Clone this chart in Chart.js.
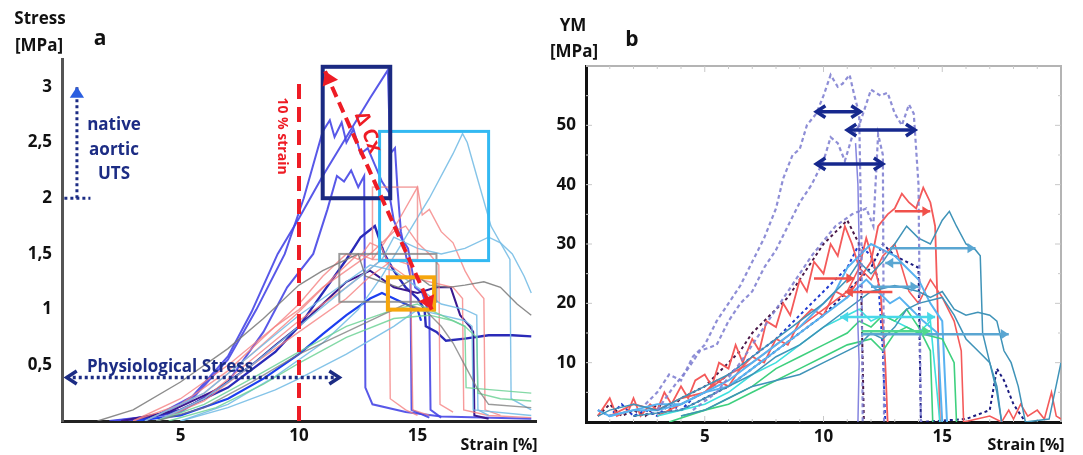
<!DOCTYPE html>
<html>
<head>
<meta charset="utf-8">
<script src="https://cdn.jsdelivr.net/npm/chart.js@4.4.0/dist/chart.umd.min.js"></script>
<style>
body { margin:0; background:#fff; width:1083px; height:455px; overflow:hidden; position:relative; font-family:'Open Sans', sans-serif; }
canvas { position:absolute; top:0; }
#chartA { left:0; }
#chartB { left:540px; }
.lbl { position:absolute; font-weight:700; white-space:nowrap; transform:translate(-50%,-50%); line-height:1; color:#111; }
.navy { color:#1c2c84; }
.red { color:#ee1c25; }
</style>
</head>
<body>
<canvas id="chartA" width="540" height="455"></canvas>
<canvas id="chartB" width="543" height="455"></canvas>

<!-- panel a texts -->
<div class="lbl" style="left:40px;top:17px;font-size:17px">Stress</div>
<div class="lbl" style="left:39px;top:44px;font-size:17px">[MPa]</div>
<div class="lbl" style="left:100px;top:37px;font-size:21px">a</div>
<div class="lbl navy" style="left:114px;top:123px;font-size:17px">native</div>
<div class="lbl navy" style="left:114px;top:148px;font-size:17px">aortic</div>
<div class="lbl navy" style="left:114px;top:172px;font-size:17px">UTS</div>
<div class="lbl navy" style="left:170px;top:365px;font-size:17px">Physiological Stress</div>
<div class="lbl red" style="left:283px;top:136px;font-size:14px;transform:translate(-50%,-50%) rotate(90deg)">10 % strain</div>
<div class="lbl red" style="left:369px;top:132px;font-size:20px;transform:translate(-50%,-50%) rotate(68deg)">Δ Cx</div>
<div class="lbl" style="left:499px;top:444px;font-size:16px">Strain [%]</div>

<!-- panel b texts -->
<div class="lbl" style="left:573px;top:24px;font-size:17px">YM</div>
<div class="lbl" style="left:574px;top:50px;font-size:17px">[MPa]</div>
<div class="lbl" style="left:632px;top:38px;font-size:21px">b</div>
<div class="lbl" style="left:1026px;top:444px;font-size:16px">Strain [%]</div>

<script>
Chart.defaults.font.family = "'Open Sans', sans-serif";

// ---------- panel a : stress-strain curves [strain %, stress MPa] ----------
const strainTicks = [5, 10, 15];
const stressTicks = [0.5, 1, 1.5, 2, 2.5, 3];

const grayA1 = [[1.5,0],[3,0.1],[5,0.35],[7,0.65],[8.5,0.92],[10,1.22],[11,1.35],[12,1.45],[12.5,1.5],[12.8,1.3],[13.5,1.25],[14.2,1.2],[15,1.3],[15.5,1.22],[16.3,1.2],[17,1.22],[17.8,1.25],[18.5,1.2],[19.2,1.05],[19.8,0.95]];
const grayA2 = [[4,0],[6,0.12],[8,0.35],[10,0.6],[12,0.8],[13.5,0.95],[14.5,1.05],[15.3,1.0],[16,0.85],[16.5,0.7],[17,0.5],[17.5,0.3],[18,0.15],[19.8,0.12]];
const pinkA1 = [[3,0],[5,0.15],[7,0.45],[8.5,0.75],[10,1.05],[11,1.3],[12,1.5],[12.5,1.45],[13,1.6],[13.5,1.55],[13.8,1.4],[13.85,0.2],[14.5,0.1],[15,0.05]];
const pinkA2 = [[3.5,0],[6,0.25],[8,0.6],[10,0.98],[11.5,1.3],[12.5,1.5],[13.1,1.45],[13.6,1.6],[14.2,1.8],[15,2.1],[15.2,1.85],[15.5,1.9],[16,1.7],[16.5,1.6],[17,1.35],[17.4,1.2],[17.8,1.1],[17.85,0.1],[18.5,0.05]];
const pinkA3 = [[3,0],[5,0.2],[7,0.5],[9,0.85],[10,1.0],[11,1.2],[12,1.35],[13,1.5],[14,1.7],[14.5,1.75],[15,1.6],[15.5,1.5],[15.9,1.4],[15.95,0.15],[16.5,0.08]];
const pinkA4 = [[4,0],[6,0.2],[8,0.55],[10,0.9],[12,1.2],[13.5,1.45],[14.5,1.3],[15.5,1.25],[16.5,1.2],[16.9,1.1],[16.95,0.1],[18,0.05],[19.8,0.03]];
const pinkA5 = [[4,0],[6,0.18],[8,0.5],[10,0.8],[12,1.1],[13,1.3],[14,1.45],[14.7,1.4],[14.8,0.1],[15.5,0.05]];
const lblueA1 = [[5,0],[7,0.15],[9,0.4],[11,0.7],[12.5,1.0],[13.5,1.3],[14.5,1.65],[15.5,2.0],[16.5,2.4],[16.9,2.58],[17.1,2.5],[17.5,2.2],[18.1,1.75],[18.5,1.6],[19,1.5],[19.5,1.3],[19.8,1.15]];
const lblueA2 = [[4,0],[6,0.2],[8,0.5],[10,0.85],[12,1.2],[13.5,1.45],[14,1.65],[15,1.55],[16,1.5],[17,1.55],[18,1.65],[18.5,1.6],[18.9,1.45],[18.95,0.2],[19.8,0.1]];
const lblueA3 = [[3.5,0],[6,0.25],[8,0.6],[10,0.95],[12,1.25],[13,1.4],[14,1.35],[15,1.2],[16,1.05],[17,1.0],[17.5,0.95],[17.55,0.1],[18,0.05]];
const lblueA4 = [[5,0],[7,0.12],[9,0.28],[10,0.38],[12,0.6],[14,0.85],[15,1.0],[16,0.95],[17,0.9],[17.3,0.85],[17.35,0.1],[19.8,0.05]];
const greenA1 = [[4,0],[6,0.15],[8,0.38],[10,0.62],[12,0.85],[14,1.0],[15,1.05],[16,0.95],[17,0.85],[17.5,0.75],[17.55,0.25],[18.5,0.2],[19.8,0.18]];
const greenA2 = [[4.5,0],[6.5,0.12],[8.5,0.33],[10,0.52],[12,0.75],[14,0.92],[15.5,0.95],[16.5,0.9],[17,0.85],[17.05,0.3],[19.8,0.25]];
const blueA1 = [[2,0],[4,0.05],[5.5,0.22],[7,0.58],[8,0.98],[9.1,1.5],[10,1.82],[11,2.2],[12,2.55],[13,2.9],[13.75,3.15],[13.85,2.4],[14.05,2.45],[14.15,2.1],[14.3,1.7],[14.5,1.5],[14.7,1.3],[14.75,0.1],[15.5,0.03]];
const blueA2 = [[2.2,0],[4,0.05],[5.5,0.2],[7,0.55],[8.2,1.0],[9.4,1.5],[10.2,2.0],[11,2.6],[11.3,2.7],[11.5,2.55],[11.8,2.68],[12,2.5],[12.3,2.62],[12.6,2.4],[12.9,2.45],[13.2,2.3],[13.5,2.15],[13.8,2.05],[14,1.8],[14.3,1.65],[14.6,1.55],[14.9,1.2],[15.2,1.15],[15.5,0.95],[15.55,0.1],[16,0.03]];
const blueA3 = [[2.8,0],[5,0.08],[7,0.35],[8.5,0.8],[9.5,1.2],[10.6,1.5],[11.2,1.9],[11.6,2.2],[11.9,2.15],[12.2,2.25],[12.5,2.1],[12.75,2.2],[12.8,0.3],[13.1,0.15],[14.5,0.08],[16,0.04],[19.8,0.02]];
const blueA4 = [[3,0],[5,0.1],[7,0.3],[9,0.62],[10,0.85],[11,1.15],[12,1.45],[12.6,1.65],[13.2,1.75],[13.6,1.5],[14,1.35],[14.5,1.2],[15,1.1],[15.3,1.0],[15.35,0.85],[15.8,0.8],[16.2,0.72],[17,0.74],[18,0.77],[19,0.77],[19.8,0.76]];
const purpleA = [[2.5,0],[4.5,0.08],[6.5,0.28],[8,0.5],[9,0.68],[10,0.85],[11,1.05],[12,1.25],[13,1.35],[14,1.2],[15,1.15],[15.8,1.2],[16.4,1.2],[16.8,0.95],[17.2,0.85],[17.35,0.8],[17.4,0.05],[18,0.02]];
const brightA = [[3,0],[5,0.05],[7,0.2],[8.5,0.38],[10,0.6],[11,0.78],[12,0.95],[13,1.1],[13.5,1.15],[14,1.1],[14.5,1.05],[15,1.0],[15.15,0.9]];

// ---------- panel a : annotations (data units) ----------
const tenStrain = [[10, 0], [10, 3.09]];
const deltaCx = [[11.1, 3.14], [15.6, 1.0]];
const utsArrow = [[0.63, 2.0], [0.63, 3.0]];
const utsBase = [[0.1, 2.0], [1.2, 2.0]];
const physioArrow = [[0.2, 0.39], [11.7, 0.39]];
const navyBox = [11.0, 13.85, 2.0, 3.18];
const cyanBox = [13.4, 18.0, 1.44, 2.6];
const grayBox = [11.7, 15.8, 1.07, 1.5];
const orangeBox = [13.75, 15.7, 1.0, 1.29];
const pinkBox = [13.1, 15.0, 1.45, 2.1];

// ---------- panel b : Young's modulus curves [strain %, YM MPa] ----------
const ymTicks = [10, 20, 30, 40, 50];

const dashL1 = [[2.5,3],[3,5],[3.5,8],[4,7],[4.5,11],[5,13],[5.5,17],[6,20],[6.5,23],[7,27],[7.5,31],[8,36],[8.3,41],[8.7,45],[9,46],[9.3,50],[9.7,52],[10,55],[10.3,58.5],[10.6,56.5],[10.8,57],[11.1,58.5],[11.3,55],[11.5,52],[11.6,30],[11.65,0]];
const dashL2 = [[3,2],[3.7,6],[4.3,9],[4.8,12],[5.5,13],[6,17],[6.5,20],[7,22],[7.5,26],[8,29],[8.5,33],[9,37],[9.5,40],[10,44],[10.3,48],[10.6,47],[10.9,44],[11.2,48],[11.5,50],[12,56],[12.4,55],[12.7,55.5],[13,52],[13.3,50],[13.6,53.5],[13.8,52],[14,40],[14.1,0]];
const dashL3 = [[4.5,2],[5.5,5],[6.5,10],[7.5,16],[8.5,22],[9.5,28],[10.5,33],[11.2,35],[11.8,36],[12.1,33],[12.3,48.5],[12.5,45],[12.55,0]];
const waveL = [[11.35,47],[11.45,40],[11.5,30],[11.42,20],[11.5,10],[11.45,0]];
const dashN1 = [[0.5,1],[1,3],[1.5,1],[2,2],[2.5,1],[3,3],[3.5,2],[4,4],[4.5,5],[5,6],[5.5,8],[6,10],[6.5,12],[7,15],[7.5,17],[8,19],[8.5,21],[9,24],[9.5,27],[10,30],[10.5,32],[11,34],[11.5,30],[11.6,20],[11.7,0]];
const dashN2 = [[0.5,2],[1,1],[1.5,3],[2,1],[2.5,2],[3,1],[3.5,3],[4,2],[4.5,4],[5,5],[6,8],[7,11],[8,14],[9,18],[10,22],[11,26],[11.5,30],[12,28],[12.3,24],[12.5,12],[12.6,0]];
const dashN3 = [[2,1],[4,2],[6,6],[8,12],[10,18],[11,22],[12,26],[12.5,30],[13,28],[13.5,27],[14,26],[14.1,0],[16,0.5],[17,2],[17.3,9],[17.6,7],[18,3],[18.5,0]];
const redB1 = [[0.5,1],[1,4],[1.3,1],[1.8,2],[2,4],[2.3,1],[2.7,3],[3,2],[3.3,5],[3.6,3],[4,6],[4.3,4],[4.6,7],[5,8],[5.3,6],[5.6,10],[6,9],[6.3,13],[6.6,10],[7,14],[7.3,12],[7.6,17],[8,16],[8.3,20],[8.6,18],[9,24],[9.3,22],[9.6,27],[10,25],[10.3,30],[10.6,28],[10.9,33],[11.2,30],[11.5,26],[11.8,31],[12.1,27],[12.4,22],[12.6,10],[12.7,0]];
const redB2 = [[1,1],[2,3],[3,2],[4,4],[5,5],[5.5,7],[6,6],[6.5,9],[7,11],[7.5,10],[8,14],[8.5,13],[9,17],[9.5,19],[10,18],[10.5,22],[11,21],[11.5,24],[12,27],[12.3,33],[12.7,35],[13,36],[13.3,38.5],[13.6,37],[13.9,36],[14.2,39.5],[14.5,37],[14.7,33],[14.8,20],[14.9,0]];
const redB3 = [[3,1],[4,3],[5,5],[6,8],[7,10],[8,13],[9,16],[10,19],[11,22],[11.5,26],[12,24],[12.5,28],[13,30],[13.3,26],[13.6,22],[14,20],[14.5,24],[15,21],[15.5,17],[15.8,12],[15.9,0],[17,1],[17.5,0],[17.8,2],[18,0.5],[18.3,3],[18.6,1],[19,2],[19.3,0.5],[19.6,5],[19.8,1],[20,0.5]];
const tealB1 = [[0.5,1],[1,2],[2,3],[3,2],[4,4],[5,6],[6,8],[7,11],[8,14],[9,17],[10,20],[11,24],[11.5,27],[12,25],[12.5,27],[13,30],[13.5,33],[14,31],[14.5,30],[15,34],[15.3,35.5],[15.6,33],[16,30],[16.4,29],[16.6,28],[16.7,15],[17,10],[17.3,6],[17.5,0]];
const tealB2 = [[2,1],[4,2],[5,4],[6,6],[7,8],[8,11],[9,13],[10,16],[11,19],[12,22],[13,23],[14,22],[14.5,21],[15,22],[15.5,19],[16,18],[16.5,18.5],[17,18],[17.3,17],[17.6,12],[17.9,10],[18.2,6],[18.5,0],[19.5,0.5],[20,10]];
const tealB3 = [[4,1],[5,2],[6,4],[7,6],[8,7],[9,8],[10,10],[11,12],[11.5,13],[12,15],[12.5,14],[13,16],[13.5,19],[14,20],[15,21],[15.5,18],[16,14],[16.5,12],[17,10],[17.3,5],[17.5,0]];
const lblueB1 = [[0.5,2],[1,1],[2,2],[3,3],[4,3],[5,5],[6,7],[7,10],[8,13],[9,16],[10,20],[10.5,22],[11,26],[11.5,28],[12,30],[12.5,29],[13,28],[13.5,26],[14,24],[14.5,20],[15,17],[15.2,0]];
const lblueB2 = [[1,1],[2,2],[3,2],[4,3],[5,5],[6,6],[7,9],[8,12],[9,15],[10,18],[11,21],[11.8,24],[12.3,22],[12.8,20],[13.2,21],[13.7,19],[14.2,17],[14.8,15],[15,0]];
const cyanB = [[3,1],[4,2],[5,3],[6,5],[7,8],[8,10],[9,13],[10,16],[11,18],[11.5,19],[12,17],[12.5,18],[13,17],[13.5,16],[14,15],[14.5,17],[14.9,0]];
const greenB1 = [[4,1],[5,2],[6,4],[7,6],[8,9],[9,11],[10,13],[11,15],[11.5,17],[12,16],[12.5,18],[13,17],[13.5,19],[14,16],[14.5,12],[14.6,0]];
const greenB2 = [[3.5,0],[5,2],[6,3],[7,5],[8,7],[9,9],[10,11],[11,13],[12,14],[12.5,12],[13,15],[13.5,16],[14,15],[15,14],[15.5,10],[15.6,0]];

// ---------- panel b : arrows [YM level, strain from, strain to] ----------
const navyArrows = [[52.3, 9.7, 11.55], [49.2, 11.0, 13.85], [43.5, 9.7, 12.5]];
const redArrows = [[35.5, 13.0, 14.5, 'right'], [24.2, 9.6, 11.3, 'right'], [21.9, 10.9, 12.9, 'left']];
const steelArrows = [[29.3, 12.8, 16.4, 'right'], [26.8, 12.6, 13.3, 'left'], [22.8, 12.0, 14.0, 'right'], [14.8, 11.6, 17.8, 'right']];
const cyanArrows = [[17.7, 10.7, 14.7, 'both']];
const greenArrows = [[15.3, 11.6, 14.5, 'right']];

// ---------- helpers ----------
function toXY(arr) {
    return arr.map(p => ({ x: p[0], y: p[1] }));
}

function line(pts, color, width, dash) {
    return {
        data: toXY(pts),
        borderColor: color,
        borderWidth: width,
        borderDash: dash || [],
        pointRadius: 0,
        fill: false,
        tension: 0
    };
}

function head(ctx, x, y, ang, size, filled) {
    ctx.save();
    ctx.translate(x, y);
    ctx.rotate(ang);
    ctx.setLineDash([]);
    ctx.beginPath();
    ctx.moveTo(-size, -size * 0.65);
    ctx.lineTo(0, 0);
    ctx.lineTo(-size, size * 0.65);
    if (filled) {
        ctx.closePath();
        ctx.fill();
    } else {
        ctx.stroke();
    }
    ctx.restore();
}

function arrow(chart, p1, p2, opt) {
    const { x, y } = chart.scales;
    const ctx = chart.ctx;
    const x1 = x.getPixelForValue(p1[0]), y1 = y.getPixelForValue(p1[1]);
    const x2 = x.getPixelForValue(p2[0]), y2 = y.getPixelForValue(p2[1]);
    const ang = Math.atan2(y2 - y1, x2 - x1);
    ctx.save();
    ctx.strokeStyle = opt.color;
    ctx.fillStyle = opt.color;
    ctx.lineWidth = opt.width;
    ctx.lineCap = 'butt';
    ctx.setLineDash(opt.dash || []);
    if (opt.width > 0) {
        ctx.beginPath();
        ctx.moveTo(x1, y1);
        ctx.lineTo(x2, y2);
        ctx.stroke();
    }
    if (opt.end) head(ctx, x2, y2, ang, opt.size, opt.filled);
    if (opt.start) head(ctx, x1, y1, ang + Math.PI, opt.size, opt.filled);
    ctx.restore();
}

function box(chart, b, color, width) {
    const { x, y } = chart.scales;
    const ctx = chart.ctx;
    const l = x.getPixelForValue(b[0]), r = x.getPixelForValue(b[1]);
    const t = y.getPixelForValue(b[3]), bt = y.getPixelForValue(b[2]);
    ctx.save();
    ctx.strokeStyle = color;
    ctx.lineWidth = width;
    ctx.strokeRect(l, t, r - l, bt - t);
    ctx.restore();
}

function tickFont() {
    return { size: 17, weight: 'bold' };
}

// ---------- panel a ----------
const annotA = {
    id: 'annotA',
    afterDatasetsDraw(chart) {
        box(chart, pinkBox, 'rgba(240,140,140,0.8)', 1.5);
        box(chart, grayBox, 'rgba(130,130,130,0.8)', 2);
        box(chart, cyanBox, '#33b9f2', 3);
        box(chart, navyBox, '#1b2a82', 4);
        box(chart, orangeBox, '#f6a60c', 4);
        arrow(chart, tenStrain[0], tenStrain[1], { color: '#ee1c25', width: 4, dash: [15, 8] });
        arrow(chart, deltaCx[0], deltaCx[1], { color: '#ee1c25', width: 4, dash: [11, 6], start: true, end: true, size: 13, filled: true });
        arrow(chart, utsBase[0], utsBase[1], { color: '#1c2c84', width: 3, dash: [3, 3] });
        arrow(chart, utsArrow[0], utsArrow[1], { color: '#1c2c84', width: 3, dash: [3, 3] });
        arrow(chart, utsArrow[0], utsArrow[1], { color: '#2a5ee0', width: 0, end: true, size: 11, filled: true });
        arrow(chart, physioArrow[0], physioArrow[1], { color: '#1c2c84', width: 3.5, dash: [3, 3], start: true, end: true, size: 10, filled: false });
    }
};

const pastel = 1.4;
new Chart(document.getElementById('chartA'), {
    type: 'line',
    data: {
        datasets: [
            line(grayA1, 'rgba(120,120,120,0.85)', pastel),
            line(grayA2, 'rgba(120,120,120,0.75)', pastel),
            line(greenA1, 'rgba(110,210,150,0.85)', pastel),
            line(greenA2, 'rgba(110,210,150,0.85)', pastel),
            line(lblueA1, 'rgba(120,190,230,0.9)', pastel),
            line(lblueA2, 'rgba(120,190,230,0.9)', pastel),
            line(lblueA3, 'rgba(120,190,230,0.9)', pastel),
            line(lblueA4, 'rgba(120,190,230,0.9)', pastel),
            line(pinkA1, 'rgba(245,130,130,0.8)', pastel),
            line(pinkA2, 'rgba(245,130,130,0.8)', pastel),
            line(pinkA3, 'rgba(245,130,130,0.8)', pastel),
            line(pinkA4, 'rgba(245,130,130,0.8)', pastel),
            line(pinkA5, 'rgba(245,130,130,0.8)', pastel),
            line(brightA, '#1c3ff0', 2.2),
            line(purpleA, '#3a1890', 2),
            line(blueA4, '#2a2ab8', 2.4),
            line(blueA3, 'rgba(70,70,230,0.9)', 2),
            line(blueA2, 'rgba(70,70,230,0.9)', 2),
            line(blueA1, 'rgba(70,70,230,0.9)', 2)
        ]
    },
    options: {
        responsive: false,
        animation: false,
        events: [],
        layout: { padding: { left: 0, top: 59, right: 4, bottom: 0 } },
        plugins: { legend: { display: false }, tooltip: { enabled: false } },
        scales: {
            x: {
                type: 'linear', min: 0, max: 20,
                afterBuildTicks: s => { s.ticks = strainTicks.map(v => ({ value: v })); },
                afterFit: s => { s.height = 34; },
                grid: { display: false, drawTicks: false },
                border: { display: true, color: '#222', width: 3 },
                ticks: { color: '#111', font: tickFont(), padding: 5, maxRotation: 0, autoSkip: false }
            },
            y: {
                type: 'linear', min: 0, max: 3.25,
                afterBuildTicks: s => { s.ticks = stressTicks.map(v => ({ value: v })); },
                afterFit: s => { s.width = 62; },
                grid: { display: false, drawTicks: false },
                border: { display: true, color: '#555', width: 3 },
                ticks: { color: '#111', font: tickFont(), padding: 10, autoSkip: false,
                    callback: v => String(v).replace('.', ',') }
            }
        }
    },
    plugins: [annotA]
});

// ---------- panel b ----------
const frameB = {
    id: 'frameB',
    beforeDatasetsDraw(chart) {
        const { ctx, chartArea: a, scales: { x, y } } = chart;
        ctx.save();
        ctx.strokeStyle = '#b4b4b4';
        ctx.lineWidth = 2;
        ctx.beginPath();
        ctx.moveTo(a.left, a.top);
        ctx.lineTo(a.right, a.top);
        ctx.lineTo(a.right, a.bottom);
        ctx.stroke();
        ctx.lineWidth = 1;
        ctx.strokeStyle = '#c8c8c8';
        ctx.beginPath();
        for (let v = 1; v < 20; v++) {
            const px = x.getPixelForValue(v);
            const len = v % 5 === 0 ? 6 : 3;
            ctx.moveTo(px, a.top);
            ctx.lineTo(px, a.top + len);
            ctx.moveTo(px, a.bottom);
            ctx.lineTo(px, a.bottom - len);
        }
        for (let v = 5; v < 60; v += 5) {
            const py = y.getPixelForValue(v);
            const len = v % 10 === 0 ? 6 : 3;
            ctx.moveTo(a.left, py);
            ctx.lineTo(a.left + len, py);
            ctx.moveTo(a.right, py);
            ctx.lineTo(a.right - len, py);
        }
        ctx.stroke();
        ctx.restore();
    },
    afterDatasetsDraw(chart) {
        navyArrows.forEach(r => arrow(chart, [r[1], r[0]], [r[2], r[0]],
            { color: '#16288e', width: 3.5, start: true, end: true, size: 9, filled: false }));
        const groups = [[redArrows, '#f0504a'], [steelArrows, '#5aa6d2'], [cyanArrows, '#48d8e8'], [greenArrows, '#50d890']];
        groups.forEach(([list, color]) => list.forEach(r => arrow(chart, [r[1], r[0]], [r[2], r[0]], {
            color: color, width: 2.5, size: 8, filled: true,
            end: r[3] === 'right' || r[3] === 'both',
            start: r[3] === 'left' || r[3] === 'both'
        })));
    }
};

const dashStyle = [4, 3];
new Chart(document.getElementById('chartB'), {
    type: 'line',
    data: {
        datasets: [
            line(dashL1, 'rgba(130,130,210,0.9)', 2.2, dashStyle),
            line(dashL2, 'rgba(130,130,210,0.9)', 2.2, dashStyle),
            line(dashL3, 'rgba(130,130,210,0.9)', 2.2, dashStyle),
            line(waveL, 'rgba(120,120,220,0.9)', 1.5),
            line(tealB1, '#3f93b8', 1.5),
            line(tealB2, '#3f93b8', 1.5),
            line(tealB3, '#3f93b8', 1.5),
            line(greenB1, '#3ed07e', 1.6),
            line(greenB2, '#3ed07e', 1.6),
            line(cyanB, '#3ee0de', 1.6),
            line(lblueB1, '#58b2f0', 2),
            line(lblueB2, '#58b2f0', 2),
            line(redB1, '#f45a5a', 1.8),
            line(redB2, '#f45a5a', 1.8),
            line(redB3, '#f45a5a', 1.6),
            line(dashN1, '#4a1848', 2, [3, 3]),
            line(dashN2, '#1f3ad0', 2, [3, 3]),
            line(dashN3, '#1c1c80', 2, [3, 3])
        ]
    },
    options: {
        responsive: false,
        animation: false,
        events: [],
        layout: { padding: { left: 0, top: 66, right: 22, bottom: 0 } },
        plugins: { legend: { display: false }, tooltip: { enabled: false } },
        scales: {
            x: {
                type: 'linear', min: 0, max: 20,
                afterBuildTicks: s => { s.ticks = strainTicks.map(v => ({ value: v })); },
                afterFit: s => { s.height = 33; },
                grid: { display: false, drawTicks: false },
                border: { display: true, color: '#111', width: 3 },
                ticks: { color: '#111', font: tickFont(), padding: 5, maxRotation: 0, autoSkip: false }
            },
            y: {
                type: 'linear', min: 0, max: 60,
                afterBuildTicks: s => { s.ticks = ymTicks.map(v => ({ value: v })); },
                afterFit: s => { s.width = 46; },
                grid: { display: false, drawTicks: false },
                border: { display: true, color: '#111', width: 3 },
                ticks: { color: '#111', font: tickFont(), padding: 10, autoSkip: false }
            }
        }
    },
    plugins: [frameB]
});
</script>
</body>
</html>
